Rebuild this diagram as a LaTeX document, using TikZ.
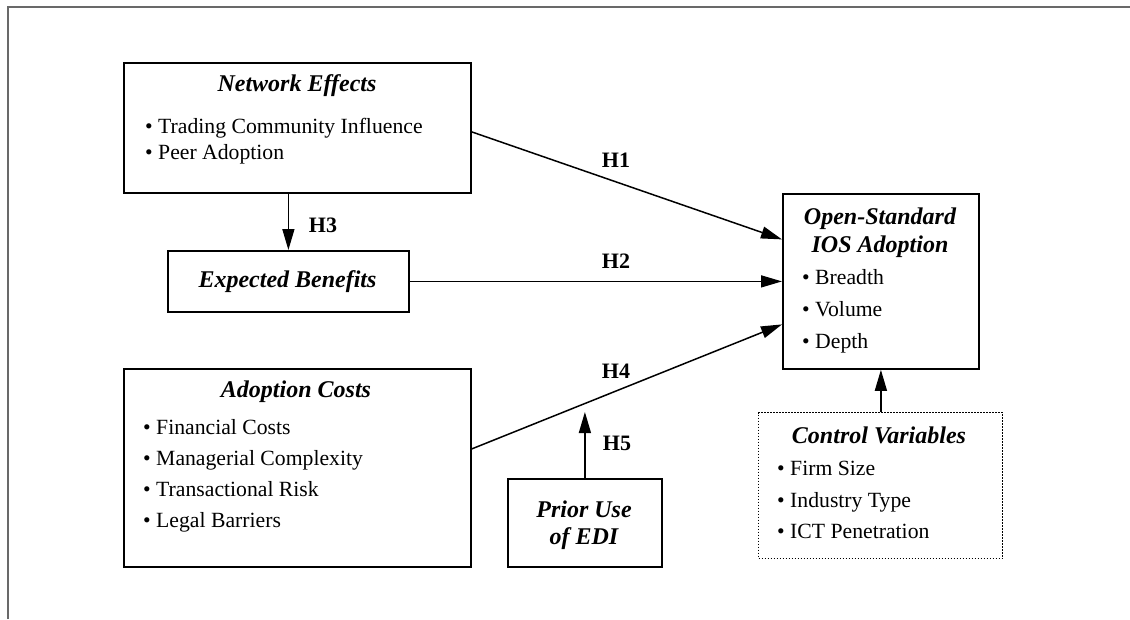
\documentclass[tikz,border=0pt]{standalone}
\usepackage{fontspec}
\setmainfont{Liberation Serif}
\usetikzlibrary{arrows.meta,calc}
\begin{document}
\begin{tikzpicture}[x=1pt,y=-1pt,
  box/.style={draw, line width=1.8pt, inner sep=0pt, anchor=north west},
  dotbox/.style={draw, line width=1pt, dash pattern=on 1.5pt off 1.5pt, inner sep=0pt, anchor=north west},
  title/.style={anchor=base, inner sep=0pt, font=\fontsize{24}{28}\selectfont\bfseries\itshape},
  item/.style={anchor=base west, inner sep=0pt, font=\fontsize{21.7}{26}\selectfont},
  hyp/.style={anchor=base, inner sep=0pt, font=\fontsize{22}{26}\selectfont\bfseries},
  arr/.style={line width=1.5pt, -{Triangle[length=21pt,width=12pt]}},
  frame/.style={line width=1.5pt, draw={rgb,255:red,105;green,105;blue,105}}
]
\useasboundingbox (0,0) rectangle (1130,619);

% outer frame (top and left edges)
\draw[frame] (8,619) -- (8,7) -- (1130,7);

% construct boxes
\node[box, minimum width=347pt, minimum height=130pt] (net) at (123,62) {};
\node[box, minimum width=241pt, minimum height=61pt] (eb) at (167,250) {};
\node[box, minimum width=347pt, minimum height=198pt] (adopt) at (123,368) {};
\node[box, minimum width=154pt, minimum height=88pt] (prior) at (507,478) {};
\node[box, minimum width=196pt, minimum height=175pt] (ios) at (782,193) {};
\node[dotbox, minimum width=244pt, minimum height=146pt] (ctrl) at (758,412) {};

% Network Effects
\node[title] (nettitle) at (297,91) {Network Effects};
\node[item] (net1) at (145,133) {• Trading Community Influence};
\node[item] (net2) at (145,159) {• Peer Adoption};

% Expected Benefits
\node[title] (ebtitle) at (287.5,287) {Expected Benefits};

% Adoption Costs
\node[title] (adtitle) at (296,397) {Adoption Costs};
\node[item] (ad1) at (143,434) {• Financial Costs};
\node[item] (ad2) at (143,465) {• Managerial Complexity};
\node[item] (ad3) at (143,496) {• Transactional Risk};
\node[item] (ad4) at (143,527) {• Legal Barriers};

% Prior Use of EDI
\node[title] (pr1) at (584,517) {Prior Use};
\node[title] (pr2) at (584,544) {of EDI};

% Open-Standard IOS Adoption
\node[title] (ios1) at (880,224) {Open-Standard};
\node[title] (ios2) at (880,252) {IOS Adoption};
\node[item] (ios3) at (802,284) {• Breadth};
\node[item] (ios4) at (802,316) {• Volume};
\node[item] (ios5) at (802,348) {• Depth};

% Control Variables
\node[title] (ctitle) at (879,443) {Control Variables};
\node[item] (c1) at (777,475) {• Firm Size};
\node[item] (c2) at (777,507) {• Industry Type};
\node[item] (c3) at (777,538) {• ICT Penetration};

% hypothesised paths
\coordinate (h5tip) at ($(prior.north)+(0,-66)$);
\draw[arr] ($(net.east)+(0,4)$) -- ($(ios.west)+(0,-42)$);
\draw[arr] (eb.east) -- (ios.west);
\draw[arr] ($(adopt.east)+(0,-19)$) -- ($(ios.west)+(0,43)$);
\draw[arr] (net.south -| eb.north) -- (eb.north);
\draw[arr] (prior.north) -- (h5tip);
\draw[arr] (ctrl.north -| ios.south) -- (ios.south);

% path labels
\node[hyp] (h1) at (616,167) {H1};
\node[hyp] (h2) at (616,268) {H2};
\node[hyp] (h3) at (323,232) {H3};
\node[hyp] (h4) at (616,378) {H4};
\node[hyp] (h5) at (617,450) {H5};
\end{tikzpicture}
\end{document}
